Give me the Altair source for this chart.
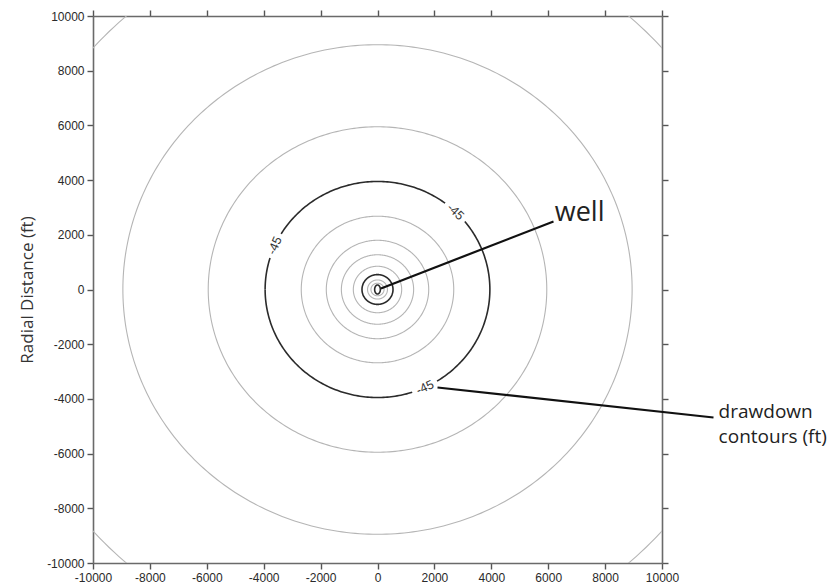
import altair as alt
import numpy as np
import pandas as pd

# ---- data ----
contour_level = [-30, -35, -40, -45, -50, -55, -60, -65, -70, -75, -80, -95]
contour_rx = [13340, 8950, 5950, 3950, 2680, 1800, 1270, 850, 545, 350, 230, 100]
contour_ry = [13340, 8950, 5950, 3950, 2680, 1800, 1270, 850, 545, 350, 230, 165]
contour_bold = [False, False, False, True, False, False, False, False, True, False, False, True]

label_text = ["-45", "-45", "-45"]
label_pos_deg = [156, 46, -65]       # where on the -45 contour the label sits
label_rotation = [294, 44, 335]      # text rotation (deg, clockwise)
label_radius = 3950

tick_values = [-10000, -8000, -6000, -4000, -2000, 0, 2000, 4000, 6000, 8000, 10000]

pointer_x = [120, 2109]
pointer_y = [40, -3583]
pointer_x2 = [6186, 11810]
pointer_y2 = [2486, -4680]

note_text = ["well", "drawdown", "contours (ft)"]
note_x = [6230, 11990, 11990]
note_y = [2780, -4480, -5400]
note_size = [27, 19, 19]

# ---- build contour polylines ----
rows = []
gap = 6.5
for lvl, rx, ry, bold in zip(contour_level, contour_rx, contour_ry, contour_bold):
    seg = 0
    prev_in = True
    for i, deg in enumerate(range(-180, 181)):
        in_gap = False
        if lvl == -45:
            for p in label_pos_deg:
                d = (deg - p + 180) % 360 - 180
                if abs(d) < gap:
                    in_gap = True
        if in_gap:
            if prev_in:
                seg += 1
            prev_in = False
            continue
        prev_in = True
        t = np.deg2rad(deg)
        rows.append({"level": lvl, "seg": f"{lvl}_{seg}", "i": i,
                     "x": rx * np.cos(t), "y": ry * np.sin(t), "bold": bold})
contours = pd.DataFrame(rows)

labels = pd.DataFrame({
    "text": label_text,
    "x": [label_radius * np.cos(np.deg2rad(a)) for a in label_pos_deg],
    "y": [label_radius * np.sin(np.deg2rad(a)) for a in label_pos_deg],
    "rot": label_rotation,
})
pointers = pd.DataFrame({"x": pointer_x, "y": pointer_y, "x2": pointer_x2, "y2": pointer_y2})
notes = pd.DataFrame({"text": note_text, "x": note_x, "y": note_y, "size": note_size})

DOM = [-10000, 10000]
xs = alt.Scale(domain=DOM, nice=False, zero=False)
ys = alt.Scale(domain=DOM, nice=False, zero=False)

axis_common = dict(values=tick_values, labelExpr="'' + datum.value", grid=False,
                   domainColor="#6a6a6a", domainWidth=1.6, tickColor="#555",
                   tickWidth=1.4, tickSize=6,
                   labelFont="Liberation Sans", labelFontSize=12, labelColor="#2a2a2a",
                   labelPadding=3)
x_axis = alt.Axis(title=None, orient="bottom", labelFlush=False, **axis_common)
y_axis = alt.Axis(title="Radial Distance (ft)", orient="left", titleFont="Open Sans",
                  titleFontSize=17, titleFontWeight="normal", titleColor="#333",
                  titlePadding=10, **axis_common)


def X(f="x"):
    return alt.X(f"{f}:Q", scale=xs, axis=x_axis)


def Y(f="y"):
    return alt.Y(f"{f}:Q", scale=ys, axis=y_axis)


light = alt.Chart(contours[~contours.bold]).mark_line(
    clip=True, stroke="#b5b5b5", strokeWidth=1.1
).encode(x=X(), y=Y(), detail="seg:N", order="i:Q")

dark = alt.Chart(contours[contours.bold]).mark_line(
    clip=True, stroke="#2b2b2b", strokeWidth=1.6
).encode(x=X(), y=Y(), detail="seg:N", order="i:Q")

lbl = alt.Chart(labels).mark_text(
    font="Liberation Sans", fontSize=12.5, color="#333", align="center", baseline="middle"
).encode(x=X(), y=Y(), text="text:N", angle=alt.Angle("rot:Q", scale=None))

ptr = alt.Chart(pointers).mark_rule(stroke="#111", strokeWidth=2.2).encode(
    x=X(), y=Y(), x2="x2:Q", y2="y2:Q")

txt = alt.Chart(notes).mark_text(
    font="Open Sans", color="#222", align="left", baseline="middle"
).encode(x=X(), y=Y(), text="text:N", size=alt.Size("size:Q", scale=None, legend=None))

main = alt.layer(light, dark, lbl, ptr, txt)

frame_axis = dict(values=tick_values, grid=False, labels=False, title=None,
                  domainColor="#6a6a6a", domainWidth=1.6, tickColor="#555",
                  tickWidth=1.4, tickSize=6)
frame = alt.Chart(pd.DataFrame({"x": [0], "y": [0]})).mark_point(opacity=0).encode(
    x=alt.X("x:Q", scale=alt.Scale(domain=DOM, nice=False, zero=False),
            axis=alt.Axis(orient="top", **frame_axis)),
    y=alt.Y("y:Q", scale=alt.Scale(domain=DOM, nice=False, zero=False),
            axis=alt.Axis(orient="right", **frame_axis)),
)

chart = alt.layer(main, frame).resolve_scale(x="independent", y="independent").properties(
    width=569, height=547,
    autosize=alt.AutoSizeParams(type="none"),
    padding={"left": 85, "top": 8, "right": 169, "bottom": 20},
    background="white",
).configure_view(stroke=None)

chart.save("out.html", embed_options={"renderer": "svg", "actions": False})
